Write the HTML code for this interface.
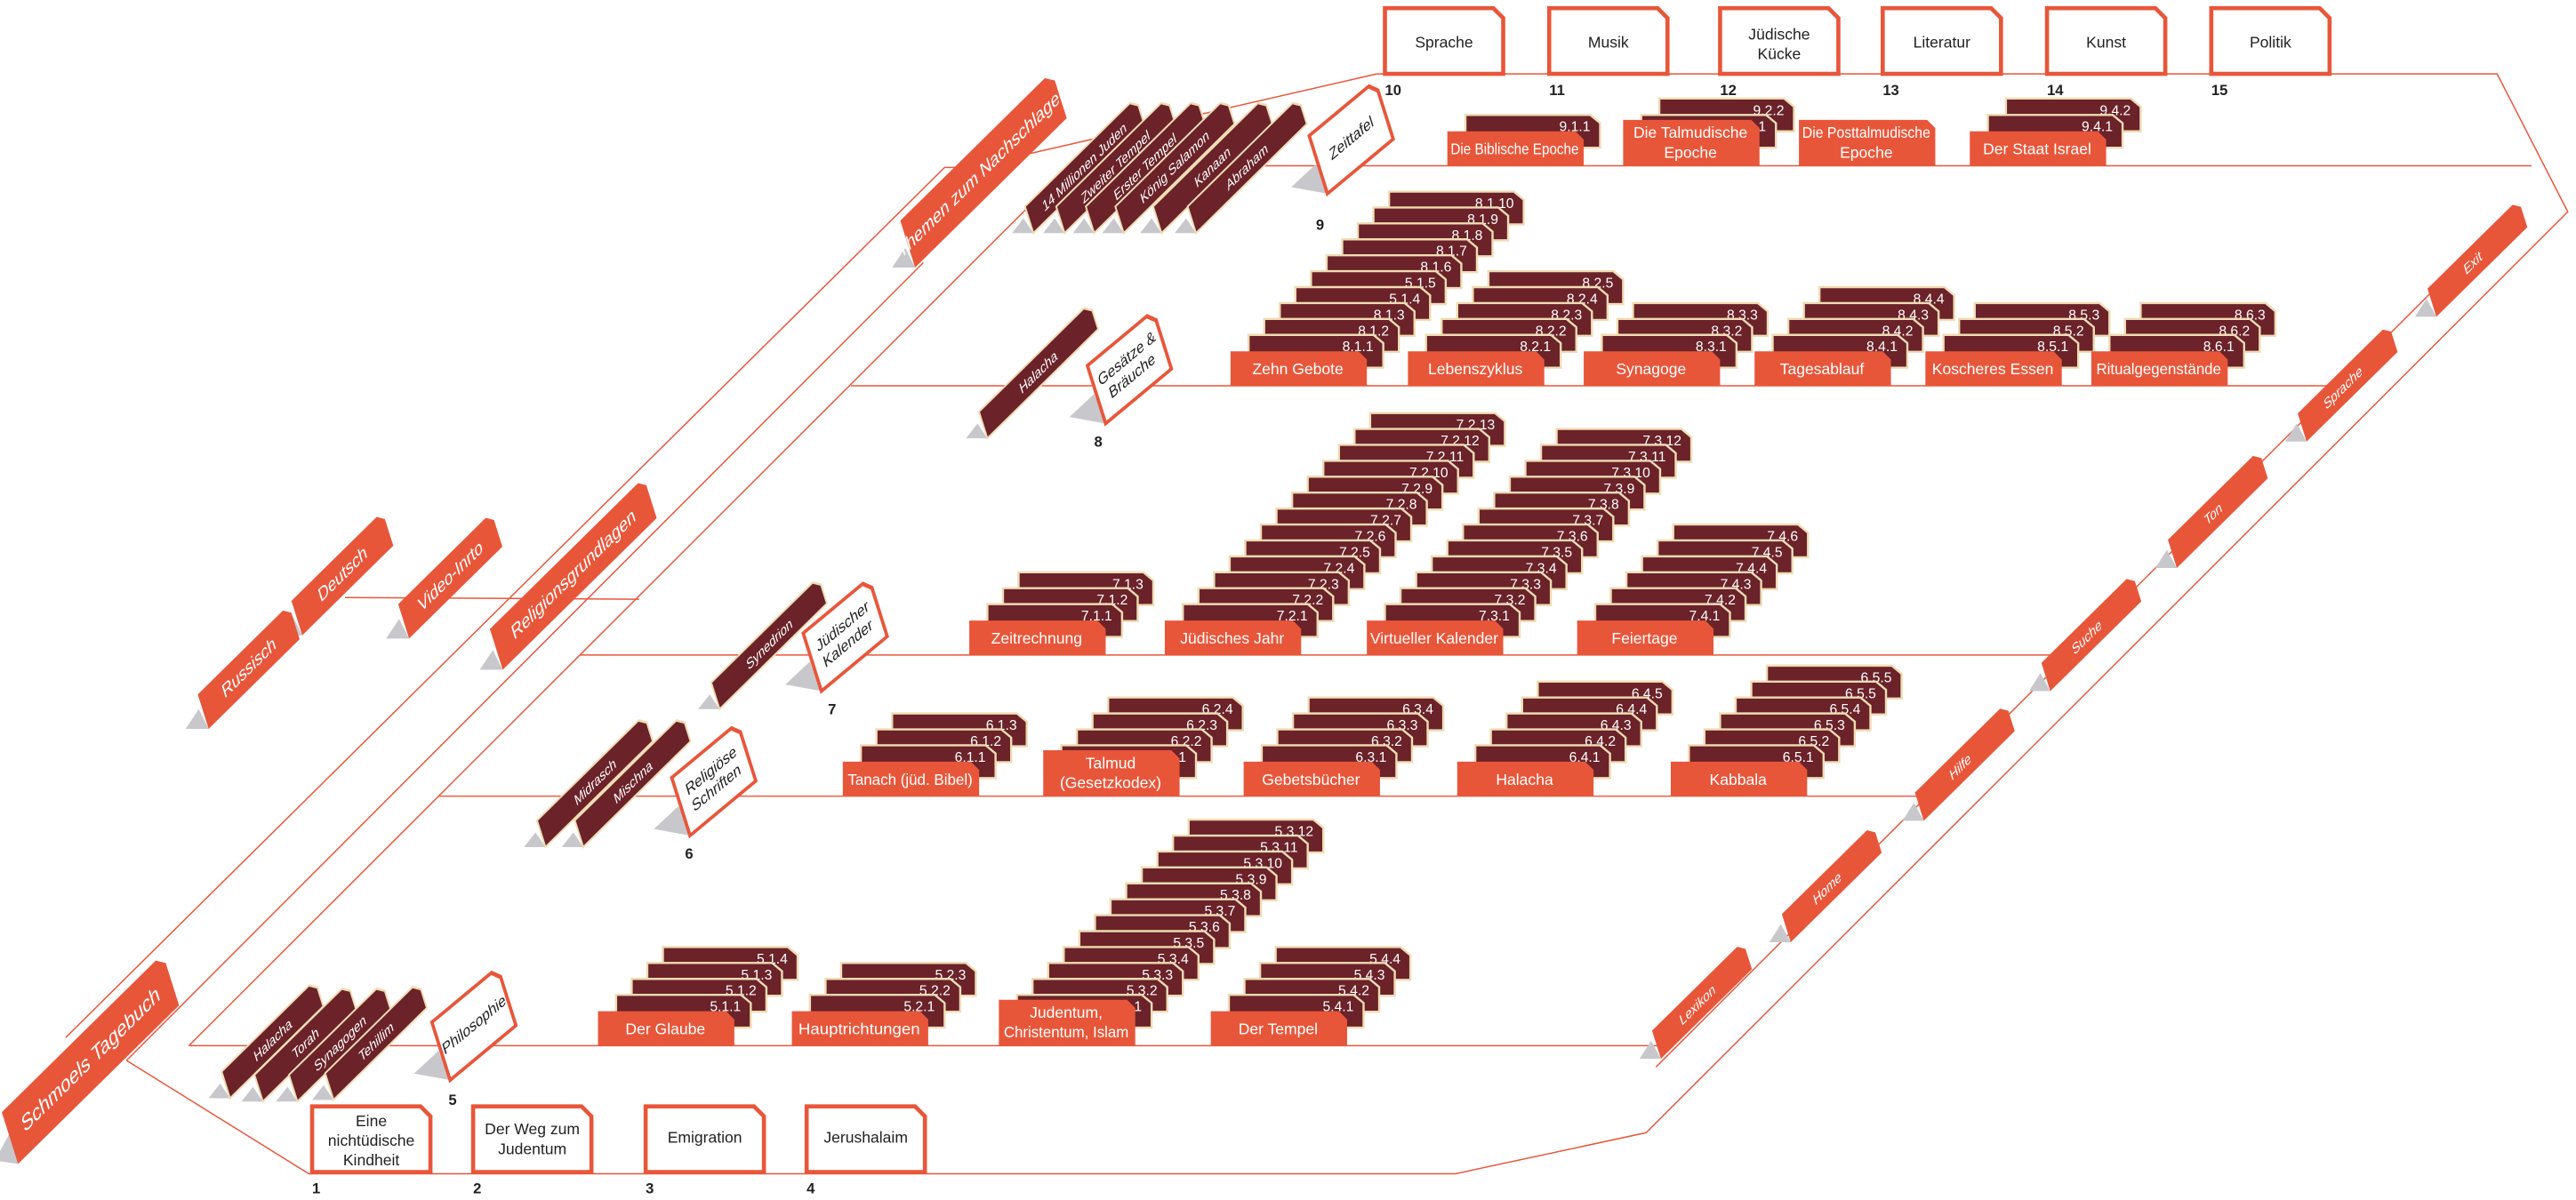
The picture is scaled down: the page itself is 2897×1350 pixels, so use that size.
<!DOCTYPE html>
<html><head><meta charset="utf-8"><style>
html,body{margin:0;padding:0;background:#fff;}
svg{display:block;font-family:"Liberation Sans",sans-serif;}
.ln{fill:none;stroke:#e8563a;stroke-width:0.8}
.card{fill:#6b2229;stroke:#efdcb4;stroke-width:1.3}
.stk text{fill:#fff;font-size:8.5px;text-anchor:end}
.stk text.lt{text-anchor:middle;font-size:9.5px}
.lb{fill:#e8563a}
.num{fill:#222;font-size:9px;text-anchor:start}
.sh{fill:#c8c8cc}
.ot{fill:#e8563a}
.ott{fill:#fff;text-anchor:middle}
.dt{fill:#6b2229;stroke:#efdcb4;stroke-width:1.2}
.wt{fill:#fff;stroke:#e8563a;stroke-width:2.2}
.wtt{fill:#222;text-anchor:middle;font-size:9.5px}
.bx{fill:#fff;stroke:#e8563a;stroke-width:2.5}
.bxt{fill:#222;font-size:9.5px;text-anchor:middle}
.bn{fill:#222;font-size:9px;font-weight:bold}
</style></head><body>
<svg width="2897" height="1350" viewBox="0 0 1568 731" preserveAspectRatio="none" xmlns="http://www.w3.org/2000/svg" xmlns:xlink="http://www.w3.org/1999/xlink">
<defs>
<path id="cd" class="card" d="M0 0H76L82 5V20H0Z"/>
<path id="lb" class="lb" d="M0 0H78L83 5V21H0Z"/>
<path id="lb2" class="lb" d="M0 0H78L83 5V28H0Z"/>
<path id="bx" class="bx" d="M0 0H66L72 6V40H0Z"/>
</defs>

<!-- structure lines -->
<polyline class="ln" points="40,632 575,102 590,102 838,45"/>
<polyline class="ln" points="77,646 188,715 886,715 1002,690 1563,129 1520,45 838,45"/>
<line class="ln" x1="77" y1="646" x2="562" y2="160"/>
<line class="ln" x1="115" y1="637" x2="651" y2="101"/>
<line class="ln" x1="651" y1="101" x2="1541" y2="101"/>
<line class="ln" x1="115" y1="637" x2="1019" y2="637"/>
<line class="ln" x1="267" y1="485" x2="1173" y2="485"/>
<line class="ln" x1="353" y1="399" x2="1262" y2="399"/>
<line class="ln" x1="518" y1="235" x2="1427" y2="235"/>
<line class="ln" x1="1008" y1="650" x2="1530" y2="128"/>
<line class="ln" x1="210" y1="364" x2="389" y2="365"/>

<!-- top boxes -->
<g transform="translate(843,5)"><use href="#bx"/><text class="bxt" x="36" y="24">Sprache</text></g>
<g transform="translate(943,5)"><use href="#bx"/><text class="bxt" x="36" y="24">Musik</text></g>
<g transform="translate(1047,5)"><use href="#bx"/><text class="bxt" x="36" y="19">Jüdische</text><text class="bxt" x="36" y="31">Kücke</text></g>
<g transform="translate(1146,5)"><use href="#bx"/><text class="bxt" x="36" y="24">Literatur</text></g>
<g transform="translate(1246,5)"><use href="#bx"/><text class="bxt" x="36" y="24">Kunst</text></g>
<g transform="translate(1346,5)"><use href="#bx"/><text class="bxt" x="36" y="24">Politik</text></g>
<text class="bn" x="843" y="58">10</text><text class="bn" x="943" y="58">11</text><text class="bn" x="1047" y="58">12</text><text class="bn" x="1146" y="58">13</text><text class="bn" x="1246" y="58">14</text><text class="bn" x="1346" y="58">15</text>

<!-- bottom boxes -->
<g transform="translate(190,674)"><use href="#bx"/><text class="bxt" x="36" y="12">Eine</text><text class="bxt" x="36" y="24">nichtüdische</text><text class="bxt" x="36" y="36">Kindheit</text></g>
<g transform="translate(288,674)"><use href="#bx"/><text class="bxt" x="36" y="17">Der Weg zum</text><text class="bxt" x="36" y="29">Judentum</text></g>
<g transform="translate(393,674)"><use href="#bx"/><text class="bxt" x="36" y="22">Emigration</text></g>
<g transform="translate(491,674)"><use href="#bx"/><text class="bxt" x="36" y="22">Jerushalaim</text></g>
<text class="bn" x="190" y="727">1</text><text class="bn" x="288" y="727">2</text><text class="bn" x="393" y="727">3</text><text class="bn" x="491" y="727">4</text>

<!-- shadows -->
<g class="sh">
<polygon points="-3,707 6,690 11,709"/>
<polygon points="113,444 121,432 127,444"/>
<polygon points="170,387 178,375 184,387"/>
<polygon points="235,389 243,377 249,389"/>
<polygon points="292,408 300,396 306,408"/>
<polygon points="543,163 551,151 557,163"/>
<polygon points="252,654 267,640 274,658"/>
<polygon points="398,505 413,491 420,509"/>
<polygon points="478,417 493,403 500,421"/>
<polygon points="651,254 666,240 673,258"/>
<polygon points="786,114 801,100 808,118"/>
<polygon points="127,669 134,660 140,669"/><polygon points="147,671 154,662 160,671"/><polygon points="168,671 175,662 181,671"/><polygon points="190,670 197,661 203,670"/>
<polygon points="319,516 326,507 332,516"/><polygon points="342,516 349,507 355,516"/>
<polygon points="425,432 432,423 438,432"/>
<polygon points="588,267 595,258 601,267"/>
<polygon points="616,142 623,133 629,142"/><polygon points="635,142 642,133 648,142"/><polygon points="653,142 660,133 666,142"/><polygon points="671,142 678,133 684,142"/><polygon points="694,142 701,133 707,142"/><polygon points="715,142 722,133 728,142"/>
<polygon points="998,645 1005,634 1011,645"/><polygon points="1077,574 1084,563 1090,574"/><polygon points="1158,500 1165,489 1171,500"/><polygon points="1235,421 1242,410 1248,421"/><polygon points="1312,346 1319,335 1325,346"/><polygon points="1391,269 1398,258 1404,269"/><polygon points="1470,193 1477,182 1483,193"/>
</g>

<!-- orange tabs -->
<g transform="matrix(0.71,-0.70,0.3,0.954,11,709)"><path class="ot" d="M0-33H132L138-27V0H0Z"/><text class="ott" x="69" y="-12" font-size="13">Schmoels Tagebuch</text></g>
<g transform="matrix(0.71,-0.70,0.3,0.954,127,444)"><path class="ot" d="M0-22H73L78-17V0H0Z"/><text class="ott" x="39" y="-7" font-size="11">Russisch</text></g>
<g transform="matrix(0.71,-0.70,0.3,0.954,184,387)"><path class="ot" d="M0-22H73L78-17V0H0Z"/><text class="ott" x="39" y="-7" font-size="11">Deutsch</text></g>
<g transform="matrix(0.71,-0.70,0.3,0.954,249,389)"><path class="ot" d="M0-22H75L80-17V0H0Z"/><text class="ott" x="40" y="-7" font-size="11">Video-Inrto</text></g>
<g transform="matrix(0.71,-0.70,0.3,0.954,306,408)"><path class="ot" d="M0-26H127L132-21V0H0Z"/><text class="ott" x="66" y="-9" font-size="11.5">Religionsgrundlagen</text></g>
<g transform="matrix(0.71,-0.70,0.3,0.954,557,163)"><path class="ot" d="M0-30H124L130-24V0H0Z"/><text class="ott" x="64" y="-11" font-size="11.5">Themen zum Nachschlagen</text></g>
<g font-size="8.5">
<g transform="matrix(0.71,-0.70,0.3,0.954,1011,645)"><path class="ot" d="M0-18H73L78-13V0H0Z"/><text class="ott" x="35" y="-6">Lexikon</text></g>
<g transform="matrix(0.71,-0.70,0.3,0.954,1090,574)"><path class="ot" d="M0-18H73L78-13V0H0Z"/><text class="ott" x="35" y="-6">Home</text></g>
<g transform="matrix(0.71,-0.70,0.3,0.954,1171,500)"><path class="ot" d="M0-18H73L78-13V0H0Z"/><text class="ott" x="35" y="-6">Hilfe</text></g>
<g transform="matrix(0.71,-0.70,0.3,0.954,1248,421)"><path class="ot" d="M0-18H73L78-13V0H0Z"/><text class="ott" x="35" y="-6">Suche</text></g>
<g transform="matrix(0.71,-0.70,0.3,0.954,1325,346)"><path class="ot" d="M0-18H73L78-13V0H0Z"/><text class="ott" x="35" y="-6">Ton</text></g>
<g transform="matrix(0.71,-0.70,0.3,0.954,1404,269)"><path class="ot" d="M0-18H73L78-13V0H0Z"/><text class="ott" x="35" y="-6">Sprache</text></g>
<g transform="matrix(0.71,-0.70,0.3,0.954,1483,193)"><path class="ot" d="M0-18H73L78-13V0H0Z"/><text class="ott" x="35" y="-6">Exit</text></g>
</g>

<!-- dark tabs -->
<g font-size="8.5">
<g transform="matrix(0.71,-0.70,0.3,0.954,140,669)"><path class="dt" d="M0-17H75L80-12V0H0Z"/><text class="ott" x="40" y="-5">Halacha</text></g>
<g transform="matrix(0.71,-0.70,0.3,0.954,160,671)"><path class="dt" d="M0-17H75L80-12V0H0Z"/><text class="ott" x="40" y="-5">Torah</text></g>
<g transform="matrix(0.71,-0.70,0.3,0.954,181,671)"><path class="dt" d="M0-17H75L80-12V0H0Z"/><text class="ott" x="40" y="-5">Synagogen</text></g>
<g transform="matrix(0.71,-0.70,0.3,0.954,203,670)"><path class="dt" d="M0-17H75L80-12V0H0Z"/><text class="ott" x="40" y="-5">Tehillim</text></g>
<g transform="matrix(0.71,-0.70,0.3,0.954,332,516)"><path class="dt" d="M0-17H87L92-12V0H0Z"/><text class="ott" x="46" y="-5">Midrasch</text></g>
<g transform="matrix(0.71,-0.70,0.3,0.954,355,516)"><path class="dt" d="M0-17H87L92-12V0H0Z"/><text class="ott" x="46" y="-5">Mischna</text></g>
<g transform="matrix(0.71,-0.70,0.3,0.954,438,432)"><path class="dt" d="M0-17H87L92-12V0H0Z"/><text class="ott" x="46" y="-5">Synedrion</text></g>
<g transform="matrix(0.71,-0.70,0.3,0.954,601,267)"><path class="dt" d="M0-17H90L95-12V0H0Z"/><text class="ott" x="47" y="-5">Halacha</text></g>
<g transform="matrix(0.71,-0.70,0.3,0.954,629,142)"><path class="dt" d="M0-17H90L95-12V0H0Z"/><text class="ott" x="47" y="-5">14 Millionen Juden</text></g>
<g transform="matrix(0.71,-0.70,0.3,0.954,648,142)"><path class="dt" d="M0-17H90L95-12V0H0Z"/><text class="ott" x="47" y="-5">Zweiter Tempel</text></g>
<g transform="matrix(0.71,-0.70,0.3,0.954,666,142)"><path class="dt" d="M0-17H90L95-12V0H0Z"/><text class="ott" x="47" y="-5">Erster Tempel</text></g>
<g transform="matrix(0.71,-0.70,0.3,0.954,684,142)"><path class="dt" d="M0-17H90L95-12V0H0Z"/><text class="ott" x="47" y="-5">König Salamon</text></g>
<g transform="matrix(0.71,-0.70,0.3,0.954,707,142)"><path class="dt" d="M0-17H90L95-12V0H0Z"/><text class="ott" x="47" y="-5">Kanaan</text></g>
<g transform="matrix(0.71,-0.70,0.3,0.954,728,142)"><path class="dt" d="M0-17H90L95-12V0H0Z"/><text class="ott" x="47" y="-5">Abraham</text></g>
</g>

<!-- white tabs -->
<g transform="matrix(0.77,-0.64,0.3,0.954,274,658)"><path class="wt" d="M0-37H47L52-31V0H0Z"/><text class="wtt" x="26" y="-15">Philosophie</text></g>
<g transform="matrix(0.77,-0.64,0.3,0.954,420,509)"><path class="wt" d="M0-37H47L52-31V0H0Z"/><text class="wtt" x="26" y="-21">Religiöse</text><text class="wtt" x="26" y="-10">Schriften</text></g>
<g transform="matrix(0.77,-0.64,0.3,0.954,500,421)"><path class="wt" d="M0-37H47L52-31V0H0Z"/><text class="wtt" x="26" y="-21">Jüdischer</text><text class="wtt" x="26" y="-10">Kalender</text></g>
<g transform="matrix(0.77,-0.64,0.3,0.954,673,258)"><path class="wt" d="M0-37H47L52-31V0H0Z"/><text class="wtt" x="26" y="-21">Gesätze &amp;</text><text class="wtt" x="26" y="-10">Bräuche</text></g>
<g transform="matrix(0.77,-0.64,0.3,0.954,808,118)"><path class="wt" d="M0-37H47L52-31V0H0Z"/><text class="wtt" x="26" y="-15">Zeittafel</text></g>
<g class="bn" font-size="10"><text x="273" y="673">5</text><text x="417" y="523">6</text><text x="504" y="435">7</text><text x="666" y="272">8</text><text x="801" y="140">9</text></g>

<!-- ROW 9 -->
<g class="stk" transform="translate(881,101)">
<g transform="translate(11,-31)"><use href="#cd"/><text x="76" y="10">9.1.1</text></g>
<use href="#lb" y="-21"/><text class="lt" x="41" y="-7" textLength="78" lengthAdjust="spacingAndGlyphs">Die Biblische Epoche</text>
<text class="num" x="0" y="13">9.1</text></g>
<g class="stk" transform="translate(988,101)">
<g transform="translate(22,-41)"><use href="#cd"/><text x="76" y="10">9.2.2</text></g>
<g transform="translate(11,-31)"><use href="#cd"/><text x="76" y="10">9.2.1</text></g>
<use href="#lb2" y="-28"/><text class="lt" x="41" y="-17">Die Talmudische</text><text class="lt" x="41" y="-5">Epoche</text>
<text class="num" x="0" y="13">9.2</text></g>
<g class="stk" transform="translate(1095,101)">
<use href="#lb2" y="-28"/><text class="lt" x="41" y="-17" textLength="78" lengthAdjust="spacingAndGlyphs">Die Posttalmudische</text><text class="lt" x="41" y="-5">Epoche</text>
<text class="num" x="0" y="13">9.3</text></g>
<g class="stk" transform="translate(1199,101)">
<g transform="translate(22,-41)"><use href="#cd"/><text x="76" y="10">9.4.2</text></g>
<g transform="translate(11,-31)"><use href="#cd"/><text x="76" y="10">9.4.1</text></g>
<use href="#lb" y="-21"/><text class="lt" x="41" y="-7">Der Staat Israel</text>
<text class="num" x="0" y="13">9.4</text></g>

<!-- ROW 8 -->
<g class="stk" transform="translate(749,235)">
<g transform="translate(96.5,-118.3)"><use href="#cd"/><text x="76" y="10">8.1.10</text></g>
<g transform="translate(87,-108.6)"><use href="#cd"/><text x="76" y="10">8.1.9</text></g>
<g transform="translate(77.5,-98.9)"><use href="#cd"/><text x="76" y="10">8.1.8</text></g>
<g transform="translate(68,-89.2)"><use href="#cd"/><text x="76" y="10">8.1.7</text></g>
<g transform="translate(58.5,-79.5)"><use href="#cd"/><text x="76" y="10">8.1.6</text></g>
<g transform="translate(49,-69.8)"><use href="#cd"/><text x="76" y="10">5.1.5</text></g>
<g transform="translate(39.5,-60.1)"><use href="#cd"/><text x="76" y="10">5.1.4</text></g>
<g transform="translate(30,-50.4)"><use href="#cd"/><text x="76" y="10">8.1.3</text></g>
<g transform="translate(20.5,-40.7)"><use href="#cd"/><text x="76" y="10">8.1.2</text></g>
<g transform="translate(11,-31)"><use href="#cd"/><text x="76" y="10">8.1.1</text></g>
<use href="#lb" y="-21"/><text class="lt" x="41" y="-7">Zehn Gebote</text>
<text class="num" x="0" y="13">8.1</text></g>
<g class="stk" transform="translate(857,235)">
<g transform="translate(49,-69.8)"><use href="#cd"/><text x="76" y="10">8.2.5</text></g>
<g transform="translate(39.5,-60.1)"><use href="#cd"/><text x="76" y="10">8.2.4</text></g>
<g transform="translate(30,-50.4)"><use href="#cd"/><text x="76" y="10">8.2.3</text></g>
<g transform="translate(20.5,-40.7)"><use href="#cd"/><text x="76" y="10">8.2.2</text></g>
<g transform="translate(11,-31)"><use href="#cd"/><text x="76" y="10">8.2.1</text></g>
<use href="#lb" y="-21"/><text class="lt" x="41" y="-7">Lebenszyklus</text>
<text class="num" x="0" y="13">8.2</text></g>
<g class="stk" transform="translate(964,235)">
<g transform="translate(30,-50.4)"><use href="#cd"/><text x="76" y="10">8.3.3</text></g>
<g transform="translate(20.5,-40.7)"><use href="#cd"/><text x="76" y="10">8.3.2</text></g>
<g transform="translate(11,-31)"><use href="#cd"/><text x="76" y="10">8.3.1</text></g>
<use href="#lb" y="-21"/><text class="lt" x="41" y="-7">Synagoge</text>
<text class="num" x="0" y="13">8.3</text></g>
<g class="stk" transform="translate(1068,235)">
<g transform="translate(39.5,-60.1)"><use href="#cd"/><text x="76" y="10">8.4.4</text></g>
<g transform="translate(30,-50.4)"><use href="#cd"/><text x="76" y="10">8.4.3</text></g>
<g transform="translate(20.5,-40.7)"><use href="#cd"/><text x="76" y="10">8.4.2</text></g>
<g transform="translate(11,-31)"><use href="#cd"/><text x="76" y="10">8.4.1</text></g>
<use href="#lb" y="-21"/><text class="lt" x="41" y="-7">Tagesablauf</text>
<text class="num" x="0" y="13">8.4</text></g>
<g class="stk" transform="translate(1172,235)">
<g transform="translate(30,-50.4)"><use href="#cd"/><text x="76" y="10">8.5.3</text></g>
<g transform="translate(20.5,-40.7)"><use href="#cd"/><text x="76" y="10">8.5.2</text></g>
<g transform="translate(11,-31)"><use href="#cd"/><text x="76" y="10">8.5.1</text></g>
<use href="#lb" y="-21"/><text class="lt" x="41" y="-7" textLength="74" lengthAdjust="spacingAndGlyphs">Koscheres Essen</text>
<text class="num" x="0" y="13">8.5</text></g>
<g class="stk" transform="translate(1273,235)">
<g transform="translate(30,-50.4)"><use href="#cd"/><text x="76" y="10">8.6.3</text></g>
<g transform="translate(20.5,-40.7)"><use href="#cd"/><text x="76" y="10">8.6.2</text></g>
<g transform="translate(11,-31)"><use href="#cd"/><text x="76" y="10">8.6.1</text></g>
<use href="#lb" y="-21"/><text class="lt" x="41" y="-7" textLength="76" lengthAdjust="spacingAndGlyphs">Ritualgegenstände</text>
<text class="num" x="0" y="13">8.6</text></g>

<!-- ROW 7 -->
<g class="stk" transform="translate(590,399)">
<g transform="translate(30,-50.4)"><use href="#cd"/><text x="76" y="10">7.1.3</text></g>
<g transform="translate(20.5,-40.7)"><use href="#cd"/><text x="76" y="10">7.1.2</text></g>
<g transform="translate(11,-31)"><use href="#cd"/><text x="76" y="10">7.1.1</text></g>
<use href="#lb" y="-21"/><text class="lt" x="41" y="-7">Zeitrechnung</text>
<text class="num" x="0" y="13">7.1</text></g>
<g class="stk" transform="translate(709,399)">
<g transform="translate(125,-147.4)"><use href="#cd"/><text x="76" y="10">7.2.13</text></g>
<g transform="translate(115.5,-137.7)"><use href="#cd"/><text x="76" y="10">7.2.12</text></g>
<g transform="translate(106,-128)"><use href="#cd"/><text x="76" y="10">7.2.11</text></g>
<g transform="translate(96.5,-118.3)"><use href="#cd"/><text x="76" y="10">7.2.10</text></g>
<g transform="translate(87,-108.6)"><use href="#cd"/><text x="76" y="10">7.2.9</text></g>
<g transform="translate(77.5,-98.9)"><use href="#cd"/><text x="76" y="10">7.2.8</text></g>
<g transform="translate(68,-89.2)"><use href="#cd"/><text x="76" y="10">7.2.7</text></g>
<g transform="translate(58.5,-79.5)"><use href="#cd"/><text x="76" y="10">7.2.6</text></g>
<g transform="translate(49,-69.8)"><use href="#cd"/><text x="76" y="10">7.2.5</text></g>
<g transform="translate(39.5,-60.1)"><use href="#cd"/><text x="76" y="10">7.2.4</text></g>
<g transform="translate(30,-50.4)"><use href="#cd"/><text x="76" y="10">7.2.3</text></g>
<g transform="translate(20.5,-40.7)"><use href="#cd"/><text x="76" y="10">7.2.2</text></g>
<g transform="translate(11,-31)"><use href="#cd"/><text x="76" y="10">7.2.1</text></g>
<use href="#lb" y="-21"/><text class="lt" x="41" y="-7">Jüdisches Jahr</text>
<text class="num" x="0" y="13">7.2</text></g>
<g class="stk" transform="translate(832,399)">
<g transform="translate(115.5,-137.7)"><use href="#cd"/><text x="76" y="10">7.3.12</text></g>
<g transform="translate(106,-128)"><use href="#cd"/><text x="76" y="10">7.3.11</text></g>
<g transform="translate(96.5,-118.3)"><use href="#cd"/><text x="76" y="10">7.3.10</text></g>
<g transform="translate(87,-108.6)"><use href="#cd"/><text x="76" y="10">7.3.9</text></g>
<g transform="translate(77.5,-98.9)"><use href="#cd"/><text x="76" y="10">7.3.8</text></g>
<g transform="translate(68,-89.2)"><use href="#cd"/><text x="76" y="10">7.3.7</text></g>
<g transform="translate(58.5,-79.5)"><use href="#cd"/><text x="76" y="10">7.3.6</text></g>
<g transform="translate(49,-69.8)"><use href="#cd"/><text x="76" y="10">7.3.5</text></g>
<g transform="translate(39.5,-60.1)"><use href="#cd"/><text x="76" y="10">7.3.4</text></g>
<g transform="translate(30,-50.4)"><use href="#cd"/><text x="76" y="10">7.3.3</text></g>
<g transform="translate(20.5,-40.7)"><use href="#cd"/><text x="76" y="10">7.3.2</text></g>
<g transform="translate(11,-31)"><use href="#cd"/><text x="76" y="10">7.3.1</text></g>
<use href="#lb" y="-21"/><text class="lt" x="41" y="-7" textLength="78" lengthAdjust="spacingAndGlyphs">Virtueller Kalender</text>
<text class="num" x="0" y="13">7.3</text></g>
<g class="stk" transform="translate(960,399)">
<g transform="translate(58.5,-79.5)"><use href="#cd"/><text x="76" y="10">7.4.6</text></g>
<g transform="translate(49,-69.8)"><use href="#cd"/><text x="76" y="10">7.4.5</text></g>
<g transform="translate(39.5,-60.1)"><use href="#cd"/><text x="76" y="10">7.4.4</text></g>
<g transform="translate(30,-50.4)"><use href="#cd"/><text x="76" y="10">7.4.3</text></g>
<g transform="translate(20.5,-40.7)"><use href="#cd"/><text x="76" y="10">7.4.2</text></g>
<g transform="translate(11,-31)"><use href="#cd"/><text x="76" y="10">7.4.1</text></g>
<use href="#lb" y="-21"/><text class="lt" x="41" y="-7">Feiertage</text>
<text class="num" x="0" y="13">7.4</text></g>

<!-- ROW 6 -->
<g class="stk" transform="translate(513,485)">
<g transform="translate(30,-50.4)"><use href="#cd"/><text x="76" y="10">6.1.3</text></g>
<g transform="translate(20.5,-40.7)"><use href="#cd"/><text x="76" y="10">6.1.2</text></g>
<g transform="translate(11,-31)"><use href="#cd"/><text x="76" y="10">6.1.1</text></g>
<use href="#lb" y="-21"/><text class="lt" x="41" y="-7" textLength="76" lengthAdjust="spacingAndGlyphs">Tanach (jüd. Bibel)</text>
<text class="num" x="0" y="13">6.1</text></g>
<g class="stk" transform="translate(635,485)">
<g transform="translate(39.5,-60.1)"><use href="#cd"/><text x="76" y="10">6.2.4</text></g>
<g transform="translate(30,-50.4)"><use href="#cd"/><text x="76" y="10">6.2.3</text></g>
<g transform="translate(20.5,-40.7)"><use href="#cd"/><text x="76" y="10">6.2.2</text></g>
<g transform="translate(11,-31)"><use href="#cd"/><text x="76" y="10">6.2.1</text></g>
<use href="#lb2" y="-28"/><text class="lt" x="41" y="-17">Talmud</text><text class="lt" x="41" y="-5">(Gesetzkodex)</text>
<text class="num" x="0" y="13">6.2</text></g>
<g class="stk" transform="translate(757,485)">
<g transform="translate(39.5,-60.1)"><use href="#cd"/><text x="76" y="10">6.3.4</text></g>
<g transform="translate(30,-50.4)"><use href="#cd"/><text x="76" y="10">6.3.3</text></g>
<g transform="translate(20.5,-40.7)"><use href="#cd"/><text x="76" y="10">6.3.2</text></g>
<g transform="translate(11,-31)"><use href="#cd"/><text x="76" y="10">6.3.1</text></g>
<use href="#lb" y="-21"/><text class="lt" x="41" y="-7">Gebetsbücher</text>
<text class="num" x="0" y="13">6.3</text></g>
<g class="stk" transform="translate(887,485)">
<g transform="translate(49,-69.8)"><use href="#cd"/><text x="76" y="10">6.4.5</text></g>
<g transform="translate(39.5,-60.1)"><use href="#cd"/><text x="76" y="10">6.4.4</text></g>
<g transform="translate(30,-50.4)"><use href="#cd"/><text x="76" y="10">6.4.3</text></g>
<g transform="translate(20.5,-40.7)"><use href="#cd"/><text x="76" y="10">6.4.2</text></g>
<g transform="translate(11,-31)"><use href="#cd"/><text x="76" y="10">6.4.1</text></g>
<use href="#lb" y="-21"/><text class="lt" x="41" y="-7">Halacha</text>
<text class="num" x="0" y="13">6.4</text></g>
<g class="stk" transform="translate(1017,485)">
<g transform="translate(58.5,-79.5)"><use href="#cd"/><text x="76" y="10">6.5.5</text></g>
<g transform="translate(49,-69.8)"><use href="#cd"/><text x="76" y="10">6.5.5</text></g>
<g transform="translate(39.5,-60.1)"><use href="#cd"/><text x="76" y="10">6.5.4</text></g>
<g transform="translate(30,-50.4)"><use href="#cd"/><text x="76" y="10">6.5.3</text></g>
<g transform="translate(20.5,-40.7)"><use href="#cd"/><text x="76" y="10">6.5.2</text></g>
<g transform="translate(11,-31)"><use href="#cd"/><text x="76" y="10">6.5.1</text></g>
<use href="#lb" y="-21"/><text class="lt" x="41" y="-7">Kabbala</text>
<text class="num" x="0" y="13">6.5</text></g>

<!-- ROW 5 -->
<g class="stk" transform="translate(364,637)">
<g transform="translate(39.5,-60.1)"><use href="#cd"/><text x="76" y="10">5.1.4</text></g>
<g transform="translate(30,-50.4)"><use href="#cd"/><text x="76" y="10">5.1.3</text></g>
<g transform="translate(20.5,-40.7)"><use href="#cd"/><text x="76" y="10">5.1.2</text></g>
<g transform="translate(11,-31)"><use href="#cd"/><text x="76" y="10">5.1.1</text></g>
<use href="#lb" y="-21"/><text class="lt" x="41" y="-7">Der Glaube</text>
<text class="num" x="0" y="13">5.1</text></g>
<g class="stk" transform="translate(482,637)">
<g transform="translate(30,-50.4)"><use href="#cd"/><text x="76" y="10">5.2.3</text></g>
<g transform="translate(20.5,-40.7)"><use href="#cd"/><text x="76" y="10">5.2.2</text></g>
<g transform="translate(11,-31)"><use href="#cd"/><text x="76" y="10">5.2.1</text></g>
<use href="#lb" y="-21"/><text class="lt" x="41" y="-7" textLength="74" lengthAdjust="spacingAndGlyphs">Hauptrichtungen</text>
<text class="num" x="0" y="13">5.2</text></g>
<g class="stk" transform="translate(608,637)">
<g transform="translate(115.5,-137.7)"><use href="#cd"/><text x="76" y="10">5.3.12</text></g>
<g transform="translate(106,-128)"><use href="#cd"/><text x="76" y="10">5.3.11</text></g>
<g transform="translate(96.5,-118.3)"><use href="#cd"/><text x="76" y="10">5.3.10</text></g>
<g transform="translate(87,-108.6)"><use href="#cd"/><text x="76" y="10">5.3.9</text></g>
<g transform="translate(77.5,-98.9)"><use href="#cd"/><text x="76" y="10">5.3.8</text></g>
<g transform="translate(68,-89.2)"><use href="#cd"/><text x="76" y="10">5.3.7</text></g>
<g transform="translate(58.5,-79.5)"><use href="#cd"/><text x="76" y="10">5.3.6</text></g>
<g transform="translate(49,-69.8)"><use href="#cd"/><text x="76" y="10">5.3.5</text></g>
<g transform="translate(39.5,-60.1)"><use href="#cd"/><text x="76" y="10">5.3.4</text></g>
<g transform="translate(30,-50.4)"><use href="#cd"/><text x="76" y="10">5.3.3</text></g>
<g transform="translate(20.5,-40.7)"><use href="#cd"/><text x="76" y="10">5.3.2</text></g>
<g transform="translate(11,-31)"><use href="#cd"/><text x="76" y="10">5.3.1</text></g>
<use href="#lb2" y="-28"/><text class="lt" x="41" y="-17">Judentum,</text><text class="lt" x="41" y="-5" textLength="76" lengthAdjust="spacingAndGlyphs">Christentum, Islam</text>
<text class="num" x="0" y="13">5.3</text></g>
<g class="stk" transform="translate(737,637)">
<g transform="translate(39.5,-60.1)"><use href="#cd"/><text x="76" y="10">5.4.4</text></g>
<g transform="translate(30,-50.4)"><use href="#cd"/><text x="76" y="10">5.4.3</text></g>
<g transform="translate(20.5,-40.7)"><use href="#cd"/><text x="76" y="10">5.4.2</text></g>
<g transform="translate(11,-31)"><use href="#cd"/><text x="76" y="10">5.4.1</text></g>
<use href="#lb" y="-21"/><text class="lt" x="41" y="-7">Der Tempel</text>
<text class="num" x="0" y="13">5.4</text></g>
</svg>
</body></html>
